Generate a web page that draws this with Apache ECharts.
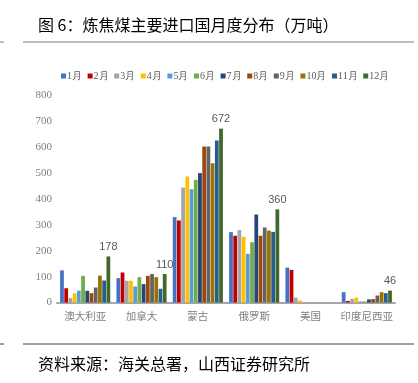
<!DOCTYPE html>
<html>
<head>
<meta charset="utf-8">
<script src="https://cdn.jsdelivr.net/npm/echarts@6/dist/echarts.min.js"></script>
<style>
  html, body { margin: 0; padding: 0; background: #fff; }
  #chart { width: 418px; height: 383px; }
</style>
</head>
<body>
<div id="chart"></div>
<script>
const countries = ['澳大利亚', '加拿大', '蒙古', '俄罗斯', '美国', '印度尼西亚'];
const months = ['1月', '2月', '3月', '4月', '5月', '6月', '7月', '8月', '9月', '10月', '11月', '12月'];
const colors = ['#4472C4', '#C00000', '#A5A5A5', '#FFC000', '#5B9BD5', '#70AD47',
  '#264478', '#9E480E', '#636363', '#997300', '#255E91', '#43682B'];

// one array per month, values per country (万吨)
const m1 = [124, 94, 330, 272, 135, 40];
const m2 = [55, 116, 317, 258, 126, 6];
const m3 = [17, 84, 444, 280, 19, 14];
const m4 = [36, 84, 487, 254, 8, 19];
const m5 = [46, 62, 438, 188, 0, 4];
const m6 = [103, 98, 474, 233, 0, 4];
const m7 = [45, 71, 500, 340, 0, 12];
const m8 = [36, 103, 603, 258, 0, 13];
const m9 = [58, 110, 603, 290, 0, 27];
const m10 = [104, 98, 538, 278, 0, 40];
const m11 = [85, 53, 626, 273, 0, 36];
const m12 = [178, 110, 672, 360, 0, 46];
const monthValues = [m1, m2, m3, m4, m5, m6, m7, m8, m9, m10, m11, m12];

const yTicks = { min: 0, max: 800, interval: 100 };

const chart = echarts.init(document.getElementById('chart'));

const series = months.map((name, i) => ({
  name: name,
  type: 'bar',
  data: monthValues[i],
  barGap: '12%',
  barCategoryGap: '11%',
  itemStyle: { color: colors[i] },
  label: i === 11 ? {
    show: true,
    position: 'top',
    distance: 4,
    color: '#595959',
    fontSize: 11,
    fontFamily: 'Liberation Sans',
    formatter: p => (p.value > 0 ? p.value : '')
  } : { show: false }
}));

chart.setOption({
  animation: false,
  color: colors,
  title: [
    {
      text: '图 6：炼焦煤主要进口国月度分布（万吨）',
      left: 33, top: 12,
      textStyle: { fontSize: 16, fontWeight: 'normal', color: '#000', fontFamily: 'Noto Sans CJK SC' }
    },
    {
      text: '资料来源：海关总署，山西证券研究所',
      left: 33, top: 351,
      textStyle: { fontSize: 16, fontWeight: 'normal', color: '#000', fontFamily: 'Noto Sans CJK SC' }
    }
  ],
  graphic: [
    { type: 'line', shape: { x1: 23, y1: 42, x2: 414, y2: 42 }, style: { stroke: '#7f7f7f', lineWidth: 1 } },
    { type: 'line', shape: { x1: 0, y1: 42, x2: 4, y2: 42 }, style: { stroke: '#7f7f7f', lineWidth: 1 } },
    { type: 'line', shape: { x1: 23, y1: 344, x2: 414, y2: 344 }, style: { stroke: '#404040', lineWidth: 1 } },
    { type: 'line', shape: { x1: 0, y1: 344, x2: 4, y2: 344 }, style: { stroke: '#404040', lineWidth: 1 } }
  ],
  legend: {
    data: months,
    top: 66,
    left: 56,
    itemWidth: 5,
    itemHeight: 5,
    itemGap: 5.6,
    icon: 'rect',
    textStyle: { fontSize: 10, color: '#595959', fontFamily: 'Liberation Serif', padding: [0, 0, 0, -4] }
  },
  grid: { left: 57, right: 23, top: 95.5, bottom: 80.5, containLabel: false },
  xAxis: {
    type: 'category',
    data: countries,
    axisLine: { lineStyle: { color: '#A6A6A6', width: 2 } },
    axisTick: { show: false },
    axisLabel: { interval: 0, color: '#7f7f7f', fontSize: 10.5, margin: 8, fontFamily: 'Noto Sans CJK SC' }
  },
  yAxis: {
    type: 'value',
    min: yTicks.min,
    max: yTicks.max,
    interval: yTicks.interval,
    axisLine: { show: false },
    axisTick: { show: false },
    splitLine: { show: false },
    axisLabel: { color: '#7f7f7f', fontSize: 11, margin: 5, fontFamily: 'Liberation Serif' }
  },
  series: series
});

window.addEventListener('resize', () => chart.resize());
</script>
</body>
</html>
